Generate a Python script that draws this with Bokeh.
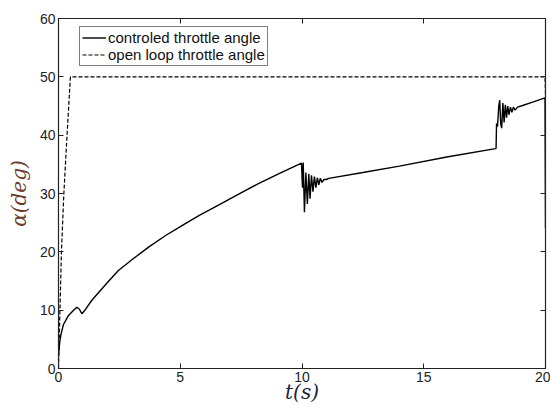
from bokeh.plotting import figure
from bokeh.models import (LinearAxis, Legend, LegendItem, FixedTicker, Range1d,
                          CustomLabelingPolicy)
from bokeh.embed import file_html
from bokeh.resources import INLINE

# controlled throttle angle
t_ctrl = [0.0, 0.05, 0.1, 0.2, 0.41, 0.6, 0.75, 0.85, 0.96, 1.05, 1.37, 2.0, 2.46, 3.0,
          3.7, 4.4, 5.07, 5.8, 6.57, 7.4, 8.21, 9.1, 9.98,
          10.02, 10.05, 10.1, 10.16, 10.22, 10.28, 10.33, 10.39, 10.45, 10.51, 10.57, 10.63,
          10.69, 10.75, 10.82, 10.9, 11.0, 11.1, 12.5, 14.0, 16.0, 17.95,
          17.97, 17.99, 18.03, 18.08, 18.12, 18.16, 18.2, 18.25, 18.3, 18.35, 18.4, 18.45,
          18.5, 18.56, 18.62, 18.68, 18.75, 18.85, 19.0, 19.5, 19.98, 20.0]
a_ctrl = [2.3, 4.5, 5.8, 7.5, 9.1, 9.9, 10.5, 10.2, 9.4, 9.8, 11.7, 14.7, 16.8, 18.6,
          20.8, 22.8, 24.5, 26.3, 28.0, 29.9, 31.7, 33.5, 35.2,
          31.0, 35.3, 26.8, 33.6, 28.2, 33.4, 29.1, 33.1, 30.3, 32.9, 31.0, 32.7,
          31.5, 32.6, 31.9, 32.4, 32.4, 32.6, 33.6, 34.7, 36.3, 37.7,
          37.7, 42.0, 41.5, 45.0, 46.0, 42.0, 41.2, 45.5, 42.2, 45.2, 43.0, 45.0,
          43.5, 44.8, 43.9, 44.8, 44.3, 44.8, 45.0, 45.7, 46.4, 24.0]

# open loop throttle angle
t_open = [0.0, 0.06, 0.12, 0.22, 0.35, 0.49, 19.98, 20.0]
a_open = [0.0, 10.0, 20.0, 30.0, 40.0, 50.0, 50.0, 47.0]

x_ticks = [0, 5, 10, 15, 20]
y_ticks = [0, 10, 20, 30, 40, 50, 60]

p = figure(width=550, height=406, output_backend="svg", toolbar_location=None,
           x_range=Range1d(0, 20), y_range=Range1d(0, 60),
           min_border_left=58, min_border_right=5, min_border_top=18, min_border_bottom=38)
p.background_fill_color = "white"
p.border_fill_color = "white"
p.outline_line_color = "#222222"
p.outline_line_width = 1.2
p.xgrid.visible = False
p.ygrid.visible = False

r1 = p.line(t_ctrl, a_ctrl, line_color="black", line_width=1.4)
r2 = p.line(t_open, a_open, line_color="black", line_width=1.2, line_dash="4 2")

for ax, ticks in ((p.xaxis[0], x_ticks), (p.yaxis[0], y_ticks)):
    ax.ticker = FixedTicker(ticks=ticks)
    ax.major_tick_in = 5
    ax.major_tick_out = 0
    ax.minor_tick_line_color = None
    ax.axis_line_color = "#222222"
    ax.major_tick_line_color = "#222222"
    ax.major_label_text_font = "Liberation Sans"
    ax.major_label_text_font_size = "14px"
    ax.major_label_text_color = "#222222"

p.xaxis[0].major_label_standoff = 3
p.yaxis[0].major_label_standoff = 3

p.xaxis[0].axis_label = "t(s)"
p.xaxis[0].axis_label_text_font = "DejaVu Serif"
p.xaxis[0].axis_label_text_font_style = "italic"
p.xaxis[0].axis_label_text_font_size = "20px"
p.xaxis[0].axis_label_text_color = "#1c2540"
p.xaxis[0].axis_label_standoff = -5

p.yaxis[0].axis_label = "α(deg)"
p.yaxis[0].axis_label_text_font = "DejaVu Serif"
p.yaxis[0].axis_label_text_font_style = "italic"
p.yaxis[0].axis_label_text_font_size = "20px"
p.yaxis[0].axis_label_text_color = "#6b3a2e"
p.yaxis[0].axis_label_standoff = 6

hide = CustomLabelingPolicy(code="""
for (let i = 0; i < indices.size; i++) { indices.unset(i) }
return indices
""")

top = LinearAxis(ticker=FixedTicker(ticks=x_ticks), major_tick_in=5, major_tick_out=0,
                 minor_tick_line_color=None, major_label_policy=hide,
                 major_label_text_font_size="0px",
                 major_label_standoff=0, axis_line_color="#222222",
                 major_tick_line_color="#222222")
right = LinearAxis(ticker=FixedTicker(ticks=y_ticks), major_tick_in=5, major_tick_out=0,
                   minor_tick_line_color=None, major_label_policy=hide,
                   major_label_text_font_size="0px",
                   major_label_standoff=0, axis_line_color="#222222",
                   major_tick_line_color="#222222")
p.add_layout(top, "above")
p.add_layout(right, "right")

legend = Legend(items=[LegendItem(label="controled throttle angle", renderers=[r1]),
                       LegendItem(label="open loop throttle angle", renderers=[r2])],
                location=(21, 302), margin=0, padding=2, spacing=0,
                label_text_font="Liberation Sans", label_text_font_size="15px",
                label_text_color="#111111", label_standoff=2,
                glyph_width=24, glyph_height=17, label_height=17,
                border_line_color="black", border_line_width=1,
                background_fill_alpha=1.0)
p.add_layout(legend, "center")

open("out.html", "w").write(file_html(p, INLINE))
